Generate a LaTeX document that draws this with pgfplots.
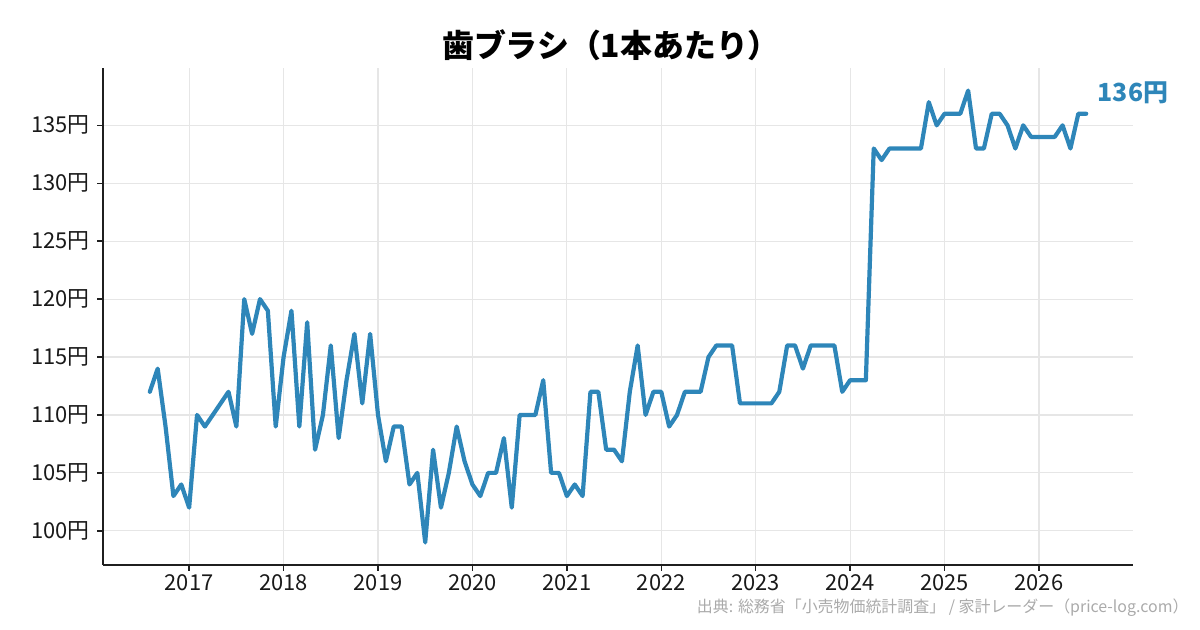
\documentclass[border=0pt]{standalone}
\usepackage{fontspec}
\setmainfont{Noto Sans CJK JP}
\usepackage{pgfplots}
\pgfplotsset{compat=1.18}
\definecolor{lineblue}{HTML}{2E86B9}
\definecolor{gridgray}{HTML}{E6E6E6}
\definecolor{srcgray}{HTML}{AAAAAA}

% month index: 0 = Jan 2016, 12 = Jan 2017, ...
\pgfplotstableread{
m   price
7   112
8   114
9   109
10  103
11  104
12  102
13  110
14  109
15  110
16  111
17  112
18  109
19  120
20  117
21  120
22  119
23  109
24  115
25  119
26  109
27  118
28  107
29  110
30  116
31  108
32  113
33  117
34  111
35  117
36  110
37  106
38  109
39  109
40  104
41  105
42  99
43  107
44  102
45  105
46  109
47  106
48  104
49  103
50  105
51  105
52  108
53  102
54  110
55  110
56  110
57  113
58  105
59  105
60  103
61  104
62  103
63  112
64  112
65  107
66  107
67  106
68  112
69  116
70  110
71  112
72  112
73  109
74  110
75  112
76  112
77  112
78  115
79  116
80  116
81  116
82  111
83  111
84  111
85  111
86  111
87  112
88  116
89  116
90  114
91  116
92  116
93  116
94  116
95  112
96  113
97  113
98  113
99  133
100 132
101 133
102 133
103 133
104 133
105 133
106 137
107 135
108 136
109 136
110 136
111 138
112 133
113 133
114 136
115 136
116 135
117 133
118 135
119 134
120 134
121 134
122 134
123 135
124 133
125 136
126 136
}\prices

\begin{document}
\begin{tikzpicture}[x=1bp,y=1bp]
\path[use as bounding box] (0,0) rectangle (1200,630);

\node[font=\fontsize{32}{37}\selectfont\bfseries] at (611,585) {歯ブラシ（1本あたり）};

\begin{axis}[
  at={(103bp,65bp)}, anchor=south west,
  scale only axis,
  width=1030bp, height=497bp,
  xmin=1.05, xmax=131.95,
  ymin=97.05, ymax=139.95,
  axis x line*=bottom, axis y line*=left,
  axis line style={black!88, line width=1.4bp, -},
  xtick={12,24,...,120},
  xticklabels={2017,2018,2019,2020,2021,2022,2023,2024,2025,2026},
  ytick={100,105,...,135},
  yticklabels={100円,105円,110円,115円,120円,125円,130円,135円},
  tick align=outside,
  major tick length=6bp,
  tick style={black!88, line width=1.4bp},
  grid=major,
  major grid style={gridgray, line width=1.2bp},
  ticklabel style={font=\fontsize{22}{25}\selectfont, text=black!90},
  yticklabel style={xshift=-4bp},
  xticklabel style={yshift=0bp},
  clip=false,
]
\addplot[lineblue, line width=4.2bp, line join=round, line cap=round]
  table[x=m, y=price] {\prices};
\node[anchor=west, text=lineblue, font=\fontsize{25}{28}\selectfont\bfseries]
  at (axis cs:126,136) [xshift=8bp, yshift=21bp] {136円};
\end{axis}

\node[anchor=east, text=srcgray, font=\fontsize{16}{19}\selectfont]
  at (1192,22) {出典: 総務省「小売物価統計調査」 / 家計レーダー（price-log.com）};
\end{tikzpicture}
\end{document}
